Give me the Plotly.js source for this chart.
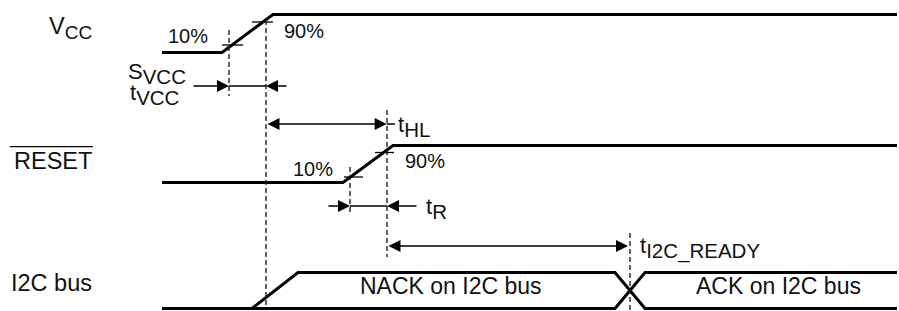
<!DOCTYPE html>
<html>
<head>
<meta charset="utf-8">
<script src="https://cdn.plot.ly/plotly-3.0.1.min.js"></script>
<style>html,body{margin:0;padding:0;background:#fff;}#chart{width:899px;height:311px;}</style>
</head>
<body>
<div id="chart"></div>
<script>
// ---- signal waveforms (time position, level position) ----
const vccT = [162, 222, 273, 897];
const vccV = [52.5, 52.5, 14.5, 14.5];
const resetT = [162, 343, 393, 897];
const resetV = [182.5, 182.5, 145.5, 145.5];
const busUpperT = [162, 252, 298, 615, 645, 897];
const busUpperV = [308.5, 308.5, 272.5, 272.5, 308.5, 308.5];
const busLowerT = [252, 615, 645, 897];
const busLowerV = [308.5, 308.5, 272.5, 272.5];

// ---- dashed reference markers ----
const markerT = [229, 266, 350, 387, 630];
const markerTop = [30, 20, 167, 110, 233];
const markerBottom = [96, 306, 215, 257, 311];

// ---- 10% / 90% threshold ticks ----
const tickY = [45, 22, 177, 152.5];
const tickX0 = [222, 252, 344, 375];
const tickX1 = [243, 273, 363, 394];
const tickLabels = ['10%', '90%', '10%', '90%'];
const tickLabelX = [168, 284, 293, 405];
const tickLabelY = [35.5, 30.5, 169, 160.5];

// ---- timing arrows: tip, tail, y, side ----
const arrowTip = [229, 266, 386.7, 350, 387, 628];
const arrowTail = [192, 288, 266, 327, 418, 387];
const arrowY = [86, 86, 124, 206, 206, 246];
const arrowSide = ['end', 'end', 'end+start', 'end', 'end', 'end+start'];
// plain shaft segments between heads
const shaftX0 = [229, 386.7, 350];
const shaftX1 = [266, 395, 387];
const shaftY = [86, 124, 206];

// ---- labels ----
const SUB = s => '<sub><span style="font-size:20.5px">' + s + '</span></sub>';
const signalNames = ['V<sub><span style="font-size:19px">CC</span></sub>', 'RESET', 'I2C bus'];
const signalNameY = [28, 160.5, 283];
const timingNames = ['S' + SUB('VCC'), 't' + SUB('VCC'), 't' + SUB('HL'), 't' + SUB('R'), 't' + SUB('I2C_READY')];
const timingNameX = [128, 130, 398, 426, 640];
const timingNameY = [73, 94, 126, 208, 248];
const busStates = ['NACK on I2C bus', 'ACK on I2C bus'];
const busStateX = [451, 778];
const busStateY = [286, 286];

const FONT = 'Arial, "Liberation Sans", sans-serif';
const traces = [];
const sig = {color: '#000', width: 3};
traces.push({x: vccT, y: vccV, mode: 'lines', line: sig});
traces.push({x: resetT, y: resetV, mode: 'lines', line: sig});
traces.push({x: busUpperT, y: busUpperV, mode: 'lines', line: sig});
traces.push({x: busLowerT, y: busLowerV, mode: 'lines', line: sig});

// dashed markers
markerT.forEach((t, i) => traces.push({x: [t, t], y: [markerTop[i], markerBottom[i]], mode: 'lines',
  line: {color: '#222', width: 1.4, dash: '5px,3px'}}));
// ticks
tickY.forEach((y, i) => traces.push({x: [tickX0[i], tickX1[i]], y: [y, y], mode: 'lines', line: {color: '#000', width: 1.3}}));
// shafts
shaftY.forEach((y, i) => traces.push({x: [shaftX0[i], shaftX1[i]], y: [y, y], mode: 'lines', line: {color: '#000', width: 1.5}}));
// RESET overline
traces.push({x: [10, 93], y: [146.7, 146.7], mode: 'lines', line: {color: '#000', width: 1.2}});

const ann = [];
arrowTip.forEach((t, i) => ann.push({x: t, y: arrowY[i], ax: arrowTail[i], ay: arrowY[i], xref: 'x', yref: 'y', axref: 'x', ayref: 'y',
  showarrow: true, arrowhead: 2, startarrowhead: 2, arrowside: arrowSide[i], arrowsize: 1.6, startarrowsize: 1.6, arrowwidth: 1.5, arrowcolor: '#000', text: '', standoff: 0, startstandoff: 0}));
signalNames.forEach((s, i) => ann.push({x: 92, y: signalNameY[i], xref: 'x', yref: 'y', text: s, showarrow: false, xanchor: 'right', yanchor: 'middle',
  font: {family: FONT, size: 23.5, color: '#111'}, borderpad: 0, borderwidth: 0}));
tickLabels.forEach((s, i) => ann.push({x: tickLabelX[i], y: tickLabelY[i], xref: 'x', yref: 'y', text: s, showarrow: false, xanchor: 'left', yanchor: 'middle',
  font: {family: FONT, size: 20, color: '#111'}, borderpad: 0, borderwidth: 0}));
timingNames.forEach((s, i) => ann.push({x: timingNameX[i], y: timingNameY[i], xref: 'x', yref: 'y', text: s, showarrow: false, xanchor: 'left', yanchor: 'middle',
  font: {family: FONT, size: 22, color: '#111'}, borderpad: 0, borderwidth: 0}));
busStates.forEach((s, i) => ann.push({x: busStateX[i], y: busStateY[i], xref: 'x', yref: 'y', text: s, showarrow: false, xanchor: 'center', yanchor: 'middle',
  font: {family: FONT, size: 23, color: '#111'}, borderpad: 0, borderwidth: 0}));

const layout = {
  width: 899, height: 311, margin: {l: 0, r: 0, t: 0, b: 0},
  paper_bgcolor: '#fff', plot_bgcolor: '#fff', showlegend: false,
  xaxis: {range: [0, 899], visible: false, fixedrange: true},
  yaxis: {range: [311, 0], visible: false, fixedrange: true},
  annotations: ann
};
Plotly.newPlot('chart', traces, layout, {staticPlot: true, displayModeBar: false});
</script>
</body>
</html>
